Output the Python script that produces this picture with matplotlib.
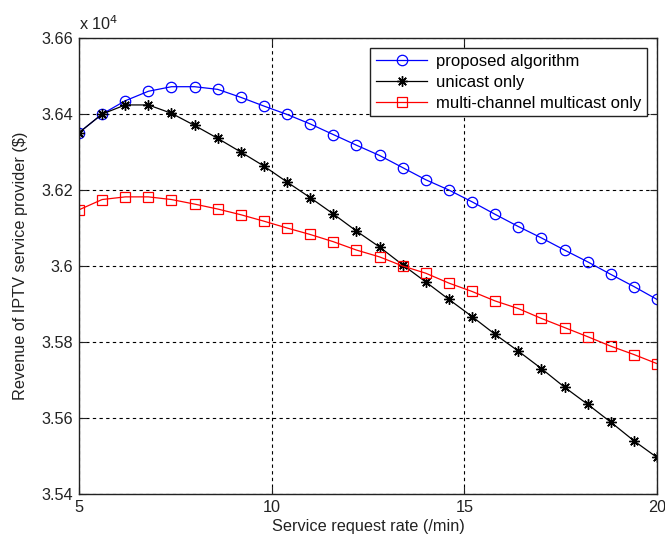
import matplotlib
matplotlib.use("Agg")
import matplotlib.pyplot as plt
from matplotlib.ticker import FuncFormatter

plt.rcParams['font.family'] = ['Liberation Sans', 'DejaVu Sans']

# Service request rate (/min)
rate = [5.0, 5.6, 6.2, 6.8, 7.4, 8.0, 8.6, 9.2, 9.8, 10.4, 11.0, 11.6, 12.2,
        12.8, 13.4, 14.0, 14.6, 15.2, 15.8, 16.4, 17.0, 17.6, 18.2, 18.8, 19.4, 20.0]

# Revenue of the IPTV service provider ($)
proposed = [36351, 36400, 36435, 36460, 36472, 36472, 36465, 36444, 36421, 36399,
            36374, 36346, 36318, 36291, 36259, 36227, 36200, 36169, 36136, 36104,
            36074, 36042, 36011, 35978, 35946, 35912]
unicast = [36351, 36400, 36424, 36424, 36402, 36370, 36336, 36300, 36263, 36221,
           36180, 36137, 36092, 36050, 36003, 35958, 35912, 35867, 35820, 35776,
           35730, 35681, 35636, 35589, 35540, 35496]
multicast = [36148, 36175, 36182, 36182, 36175, 36163, 36150, 36135, 36118, 36100,
             36083, 36064, 36042, 36024, 36000, 35981, 35955, 35933, 35908, 35888,
             35862, 35838, 35814, 35789, 35767, 35743]

x_ticks = [5, 10, 15, 20]
y_ticks = [35400, 35600, 35800, 36000, 36200, 36400, 36600]

fig = plt.figure(figsize=(6.65, 5.44), dpi=100)
ax = fig.add_axes([0.1188, 0.092, 0.8692, 0.838])

ax.plot(rate, proposed, color='blue', lw=0.9, marker='o', ms=7.5,
        mfc='none', mec='blue', mew=0.9, label='proposed algorithm')
ax.plot(rate, unicast, color='black', lw=0.9, marker=(8, 2, 0), ms=7.5,
        mec='black', mew=1.0, label='unicast only')
ax.plot(rate, multicast, color='red', lw=0.9, marker='s', ms=7.5,
        mfc='none', mec='red', mew=0.9, label='multi-channel multicast only')

ax.set_xlim(5, 20)
ax.set_ylim(35400, 36600)
ax.set_xticks(x_ticks)
ax.set_yticks(y_ticks)
ax.yaxis.set_major_formatter(FuncFormatter(lambda v, p: f"{round(v / 1e4, 4):g}"))

ax.grid(True, color='black', linestyle=(0, (3, 3)), linewidth=0.8)
ax.tick_params(direction='in', top=True, right=True, length=5, width=0.8,
               labelsize=11.7, colors='#222222', pad=4)
for s in ax.spines.values():
    s.set_linewidth(1.0)
    s.set_color('#222222')

ax.text(0.0, 1.012, r'x 10$^4$', transform=ax.transAxes, ha='left', va='bottom',
        fontsize=11.7, color='#222222')

ax.set_xlabel('Service request rate (/min)', fontsize=11.7, color='#222222', labelpad=3)
ax.set_ylabel('Revenue of IPTV service provider ($)', fontsize=11.7, color='#222222',
              labelpad=10)

leg = ax.legend(loc='upper right', fontsize=12, frameon=True, fancybox=False,
                edgecolor='#222222', framealpha=1, handlelength=3.1,
                borderaxespad=0.6, labelspacing=0.35, borderpad=0.35,
                handletextpad=0.5)
leg.get_frame().set_linewidth(1.0)

fig.savefig('out.png', dpi=100)
